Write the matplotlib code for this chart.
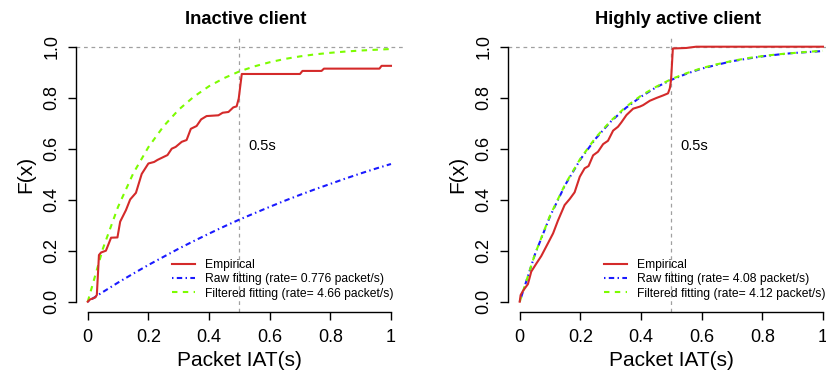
import matplotlib
matplotlib.use("Agg")
import matplotlib.pyplot as plt
import numpy as np

plt.rcParams['font.family'] = ['Liberation Sans', 'DejaVu Sans']

# ---- data ----
# inactive client, empirical CDF
inact_x = [0, 0.008, 0.024, 0.030, 0.037, 0.044, 0.060, 0.077, 0.098, 0.107, 0.126, 0.140,
           0.159, 0.178, 0.200, 0.219, 0.230, 0.249, 0.263, 0.277, 0.290, 0.310, 0.326,
           0.340, 0.359, 0.374, 0.392, 0.431, 0.445, 0.464, 0.480, 0.491, 0.498, 0.508,
           0.700, 0.708, 0.771, 0.779, 0.962, 0.969, 1.0]
inact_y = [0, 0.009, 0.016, 0.026, 0.183, 0.193, 0.200, 0.251, 0.252, 0.314, 0.359, 0.401,
           0.427, 0.501, 0.542, 0.548, 0.556, 0.567, 0.575, 0.600, 0.607, 0.627, 0.634,
           0.678, 0.689, 0.715, 0.728, 0.731, 0.741, 0.744, 0.762, 0.766, 0.797, 0.893,
           0.893, 0.905, 0.905, 0.914, 0.914, 0.925, 0.925]

# highly active client, empirical CDF
active_x = [0, 0.003, 0.011, 0.027, 0.038, 0.055, 0.071, 0.093, 0.110, 0.126, 0.148, 0.165,
            0.181, 0.198, 0.214, 0.227, 0.242, 0.258, 0.275, 0.291, 0.308, 0.324, 0.335,
            0.352, 0.374, 0.396, 0.407, 0.429, 0.451, 0.473, 0.489, 0.495, 0.499, 0.505,
            0.549, 0.582, 1.0]
active_y = [0, 0.026, 0.043, 0.069, 0.118, 0.150, 0.179, 0.229, 0.268, 0.318, 0.379, 0.403,
            0.429, 0.490, 0.523, 0.532, 0.574, 0.588, 0.618, 0.631, 0.671, 0.686, 0.703,
            0.732, 0.757, 0.765, 0.771, 0.788, 0.799, 0.809, 0.817, 0.837, 0.869, 0.993,
            0.995, 1.0, 1.0]

# fitted curves (read at fixed x)
fit_x = [0, 0.05, 0.1, 0.15, 0.2, 0.25, 0.3, 0.35, 0.4, 0.45, 0.5,
         0.55, 0.6, 0.65, 0.7, 0.75, 0.8, 0.85, 0.9, 0.95, 1.0]
inact_raw = [0, 0.038, 0.075, 0.110, 0.144, 0.176, 0.208, 0.238, 0.267, 0.295, 0.322,
             0.347, 0.372, 0.396, 0.419, 0.441, 0.462, 0.483, 0.503, 0.522, 0.540]
inact_filt = [0, 0.208, 0.372, 0.503, 0.606, 0.688, 0.753, 0.804, 0.845, 0.877, 0.903,
              0.923, 0.939, 0.952, 0.962, 0.970, 0.976, 0.981, 0.985, 0.988, 0.991]
active_raw = [0, 0.185, 0.335, 0.458, 0.558, 0.639, 0.706, 0.760, 0.804, 0.841, 0.870,
              0.894, 0.914, 0.929, 0.943, 0.953, 0.962, 0.969, 0.975, 0.979, 0.983]
active_filt = [0, 0.186, 0.338, 0.461, 0.561, 0.643, 0.709, 0.764, 0.808, 0.843, 0.873,
               0.896, 0.916, 0.931, 0.944, 0.955, 0.963, 0.970, 0.975, 0.980, 0.984]

titles = ["Inactive client", "Highly active client"]
raw_labels = ["Raw fitting (rate= 0.776 packet/s)", "Raw fitting (rate= 4.08 packet/s)"]
filt_labels = ["Filtered fitting (rate= 4.66 packet/s)", "Filtered fitting (rate= 4.12 packet/s)"]

RED = "#d42a2a"
BLUE = "#1a1aff"
GREEN = "#7cfc00"
GREY = "#a0a0a0"

fig = plt.figure(figsize=(8.26, 3.81), dpi=100)
W, H = 826.0, 381.0
panels = [(75.6, inact_x, inact_y, inact_raw, inact_filt),
          (507.6, active_x, active_y, active_raw, active_filt)]

for i, (left_px, ex, ey, raw, filt) in enumerate(panels):
    ax = fig.add_axes([left_px / W, (H - 311.9) / H, 327.5 / W, 275.4 / H])
    ax.set_xlim(-0.04, 1.04)
    ax.set_ylim(-0.04, 1.04)

    ax.axhline(1.0, color=GREY, lw=0.9, ls=(0, (3, 3)), zorder=1)
    ax.axvline(0.5, color=GREY, lw=0.9, ls=(0, (3, 3)), zorder=1)

    ax.plot(ex, ey, color=RED, lw=1.5, label="Empirical", zorder=3)
    ax.plot(fit_x, raw, color=BLUE, lw=1.5, ls=(0, (0.7, 1.6, 2.6, 1.6)),
            label=raw_labels[i], zorder=2)
    ax.plot(fit_x, filt, color=GREEN, lw=1.5, ls=(0, (2.6, 2.6)),
            label=filt_labels[i], zorder=2)

    ax.text(0.53, 0.61, "0.5s", fontsize=10.5, ha="left", va="center")

    ax.set_xticks([0, 0.2, 0.4, 0.6, 0.8, 1.0])
    ax.set_xticklabels(["0", "0.2", "0.4", "0.6", "0.8", "1"])
    ax.set_yticks([0, 0.2, 0.4, 0.6, 0.8, 1.0])
    ax.set_yticklabels(["0.0", "0.2", "0.4", "0.6", "0.8", "1.0"], rotation=90, va="center")
    ax.tick_params(axis="both", labelsize=13, length=6, width=1.0, direction="out")
    ax.tick_params(axis="x", pad=6)
    ax.tick_params(axis="y", pad=5)

    for s in ["top", "right"]:
        ax.spines[s].set_visible(False)
    ax.spines["left"].set_bounds(0, 1)
    ax.spines["bottom"].set_bounds(0, 1)
    ax.spines["left"].set_linewidth(1.0)
    ax.spines["bottom"].set_linewidth(1.0)

    ax.set_xlabel("Packet IAT(s)", fontsize=15, labelpad=4)
    ax.set_ylabel("F(x)", fontsize=15, labelpad=6)
    ax.set_title(titles[i], fontsize=13.2, fontweight="bold", x=0.52, pad=9)

    ax.legend(loc="lower right", bbox_to_anchor=(0.972, 0.045), frameon=False,
              fontsize=8.7, handlelength=1.9, handletextpad=0.85, labelspacing=0.18,
              borderpad=0, borderaxespad=0)

fig.savefig("out.png", dpi=100)
